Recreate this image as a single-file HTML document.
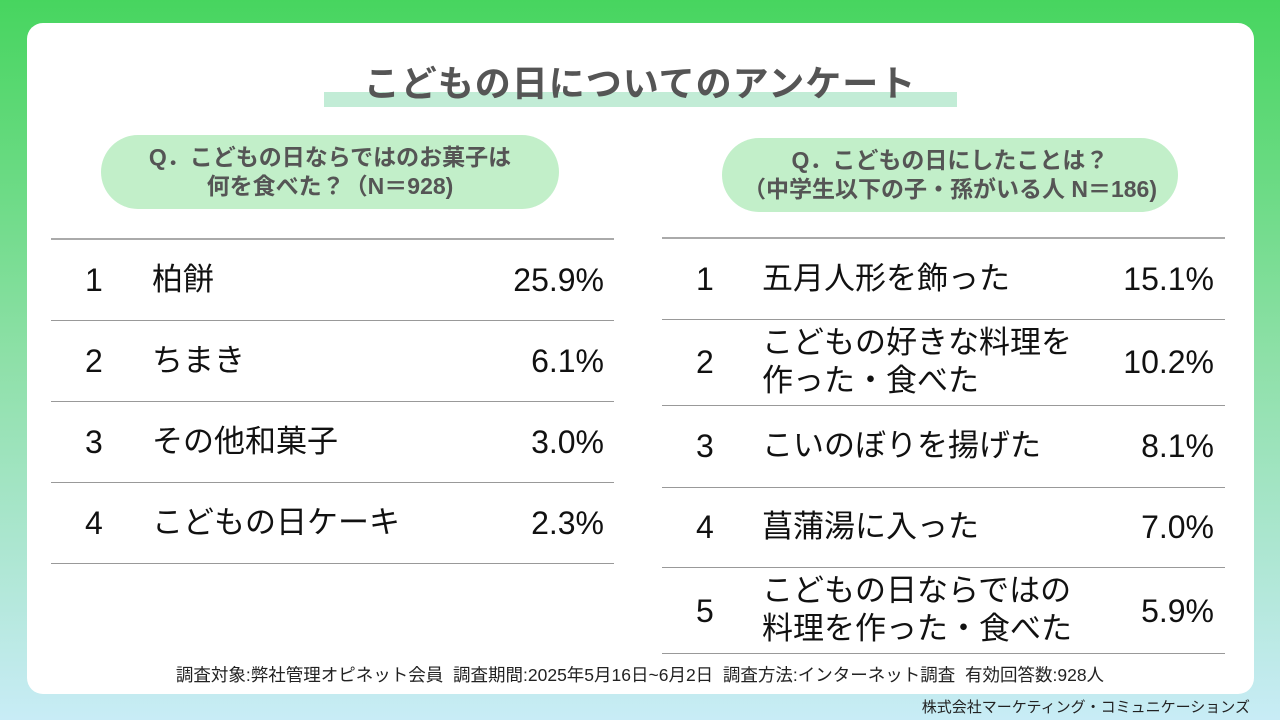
<!DOCTYPE html>
<html><head><meta charset="utf-8"><style>
*{margin:0;padding:0;box-sizing:border-box}
body{width:1280px;height:720px;overflow:hidden;position:relative;font-family:"Liberation Sans","Noto Sans CJK JP",sans-serif;background:linear-gradient(180deg,#47d55f 0%,#8ee0a8 50%,#c8ecf6 100%);color:#111}
.card{position:absolute;left:27px;top:23px;width:1227px;height:671px;background:#fff;border-radius:16px}
.hl{position:absolute;left:324px;top:92px;width:633px;height:15px;background:#c2ecd6}
.title{position:absolute;left:0;width:1280px;top:55px;text-align:center;font-size:36px;font-weight:bold;color:#555;letter-spacing:1px}
.pill{position:absolute;background:#c2efc9;border-radius:38px;text-align:center;font-size:23px;font-weight:bold;color:#555;line-height:29px;padding-top:8px;white-space:nowrap}
.line{position:absolute;height:1px;background:#999}
.t{position:absolute;font-size:31px;line-height:38px;color:#111;white-space:nowrap}
.n{font-size:32px}
.r{text-align:right;font-size:32px}
.foot{position:absolute;top:662px;left:0;width:1280px;text-align:center;font-size:17.5px;color:#222;white-space:nowrap}
.corp{position:absolute;top:696px;right:30px;font-size:15px;color:#222}
</style></head><body>
<div class="card"></div>
<div class="hl"></div>
<div class="title">こどもの日についてのアンケート</div>

<div class="pill" style="left:101px;top:135px;width:458px;height:74px">Q．こどもの日ならではのお菓子は<br>何を食べた？（N＝928)</div>
<div class="pill" style="left:722px;top:138px;width:456px;height:74px">Q．こどもの日にしたことは？<br>（中学生以下の子・孫がいる人 N＝186)</div>

<div class="line" style="left:51px;top:238px;width:563px;height:2px;background:#aaa"></div>
<div class="line" style="left:51px;top:320px;width:563px"></div>
<div class="line" style="left:51px;top:401px;width:563px"></div>
<div class="line" style="left:51px;top:482px;width:563px"></div>
<div class="line" style="left:51px;top:563px;width:563px"></div>

<div class="t n" style="left:85px;top:261px">1</div>
<div class="t" style="left:152px;top:261px">柏餅</div>
<div class="t r" style="left:440px;width:164px;top:261px">25.9%</div>
<div class="t n" style="left:85px;top:342px">2</div>
<div class="t" style="left:152px;top:342px">ちまき</div>
<div class="t r" style="left:440px;width:164px;top:342px">6.1%</div>
<div class="t n" style="left:85px;top:423px">3</div>
<div class="t" style="left:152px;top:423px">その他和菓子</div>
<div class="t r" style="left:440px;width:164px;top:423px">3.0%</div>
<div class="t n" style="left:85px;top:504px">4</div>
<div class="t" style="left:152px;top:504px">こどもの日ケーキ</div>
<div class="t r" style="left:440px;width:164px;top:504px">2.3%</div>

<div class="line" style="left:662px;top:237px;width:563px;height:2px;background:#aaa"></div>
<div class="line" style="left:662px;top:319px;width:563px"></div>
<div class="line" style="left:662px;top:405px;width:563px"></div>
<div class="line" style="left:662px;top:487px;width:563px"></div>
<div class="line" style="left:662px;top:567px;width:563px"></div>
<div class="line" style="left:662px;top:653px;width:563px"></div>

<div class="t n" style="left:696px;top:260px">1</div>
<div class="t" style="left:762px;top:260px">五月人形を飾った</div>
<div class="t r" style="left:1050px;width:164px;top:260px">15.1%</div>
<div class="t n" style="left:696px;top:343px">2</div>
<div class="t" style="left:762px;top:324px">こどもの好きな料理を<br>作った・食べた</div>
<div class="t r" style="left:1050px;width:164px;top:343px">10.2%</div>
<div class="t n" style="left:696px;top:427px">3</div>
<div class="t" style="left:762px;top:427px">こいのぼりを揚げた</div>
<div class="t r" style="left:1050px;width:164px;top:427px">8.1%</div>
<div class="t n" style="left:696px;top:508px">4</div>
<div class="t" style="left:762px;top:508px">菖蒲湯に入った</div>
<div class="t r" style="left:1050px;width:164px;top:508px">7.0%</div>
<div class="t n" style="left:696px;top:592px">5</div>
<div class="t" style="left:762px;top:572px">こどもの日ならではの<br>料理を作った・食べた</div>
<div class="t r" style="left:1050px;width:164px;top:592px">5.9%</div>

<div class="foot">調査対象:弊社管理オピネット会員&nbsp; 調査期間:2025年5月16日~6月2日&nbsp; 調査方法:インターネット調査&nbsp; 有効回答数:928人</div>
<div class="corp">株式会社マーケティング・コミュニケーションズ</div>
</body></html>
